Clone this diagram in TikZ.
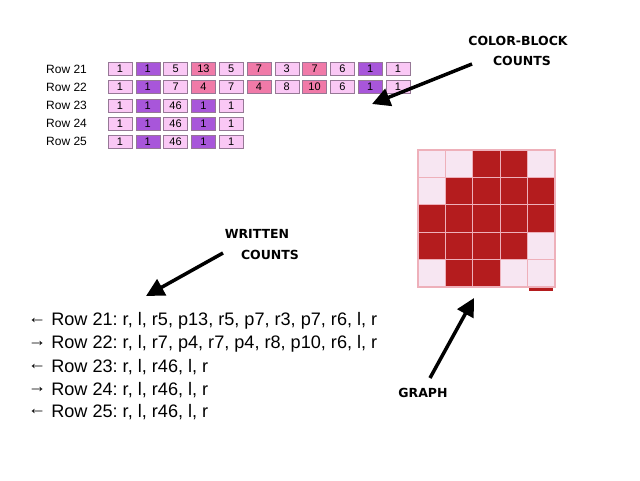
\documentclass[tikz,border=0pt]{standalone}
\usepackage{fontspec}
\setmainfont{Liberation Sans}
\newfontfamily\labelfont{DejaVu Sans}
\usetikzlibrary{arrows.meta}
\definecolor{cL}{RGB}{250,200,245}
\definecolor{cP}{RGB}{168,86,218}
\definecolor{cK}{RGB}{240,122,168}
\definecolor{cellline}{RGB}{150,120,150}
\definecolor{gL}{RGB}{247,230,242}
\definecolor{gR}{RGB}{180,28,30}
\definecolor{gline}{RGB}{238,176,186}
\newcommand{\la}{\raisebox{2.5pt}{←}}
\newcommand{\ra}{\raisebox{2.5pt}{→}}
\tikzset{
  cellbox/.style={draw=cellline,line width=0.5pt,minimum width=24pt,minimum height=13pt,inner sep=0pt,font=\fontsize{11}{11}\selectfont},
  rowlab/.style={anchor=west,inner sep=0pt,font=\fontsize{12}{12}\selectfont},
  gcell/.style={draw=gline,line width=1.2pt,minimum size=27.4pt,inner sep=0pt},
  callout/.style={font=\labelfont\bfseries\fontsize{12.5}{12.5}\selectfont,inner sep=0pt},
  bigarrow/.style={line width=3.5pt,-{Triangle[length=18pt,width=18pt]}},
  countline/.style={anchor=west,inner sep=0pt,font=\fontsize{18.1}{18.1}\selectfont\frenchspacing}
}
\begin{document}
\begin{tikzpicture}[x=1pt,y=-1pt]
\useasboundingbox[fill=white] (0,0) rectangle (640,480);
% colour-block table
\foreach \r/\lab/\data in {0/21/{1/L,1/P,5/L,13/K,5/L,7/K,3/L,7/K,6/L,1/P,1/L},
                           1/22/{1/L,1/P,7/L,4/K,7/L,4/K,8/L,10/K,6/L,1/P,1/L},
                           2/23/{1/L,1/P,46/L,1/P,1/L},
                           3/24/{1/L,1/P,46/L,1/P,1/L},
                           4/25/{1/L,1/P,46/L,1/P,1/L}}{
  \node[rowlab] (lab\lab) at (46,{69+\r*18.2}) {Row \lab};
  \foreach \v/\c [count=\i from 0] in \data {
    \node[cellbox,fill=c\c] (t\lab-\i) at ({120+\i*27.8},{69+\r*18.2}) {\v};
  }
}
% graph
\foreach \row [count=\r from 0] in {{L,L,R,R,L},{L,R,R,R,R},{R,R,R,R,R},{R,R,R,R,L},{L,R,R,L,L}}{
  \foreach \c [count=\i from 0] in \row {
    \node[gcell,fill=g\c] (g\r-\i) at ({431.7+\i*27.4},{163.7+\r*27.4}) {};
  }
}
\fill[gR] (528.5,287.5) rectangle (553,290.5);
% written counts
\node[countline] (w21) at (28,321) {\la{} Row 21: r, l, r5, p13, r5, p7, r3, p7, r6, l, r};
\node[countline] (w22) at (28,344) {\ra{} Row 22: r, l, r7, p4, r7, p4, r8, p10, r6, l, r};
\node[countline] (w23) at (28,367) {\la{} Row 23: r, l, r46, l, r};
\node[countline] (w24) at (28,390) {\ra{} Row 24: r, l, r46, l, r};
\node[countline] (w25) at (28,412) {\la{} Row 25: r, l, r46, l, r};
% callouts
\node[callout] (cb1) at (518,41) {COLOR-BLOCK};
\node[callout] (cb2) at (522,61) {COUNTS};
\node[callout] (wr1) at (257,234) {WRITTEN};
\node[callout] (wr2) at (270,255) {COUNTS};
\node[callout] (gr) at (423,393) {GRAPH};
\coordinate (cbtail) at (472,64);
\coordinate (cbtip) at (372,104);
\coordinate (wrtail) at (223,253);
\coordinate (wrtip) at (146,296);
\coordinate (grtail) at (430,378);
\coordinate (grtip) at (474,298);
\draw[bigarrow] (cbtail) -- (cbtip);
\draw[bigarrow] (wrtail) -- (wrtip);
\draw[bigarrow] (grtail) -- (grtip);
\end{tikzpicture}
\end{document}
